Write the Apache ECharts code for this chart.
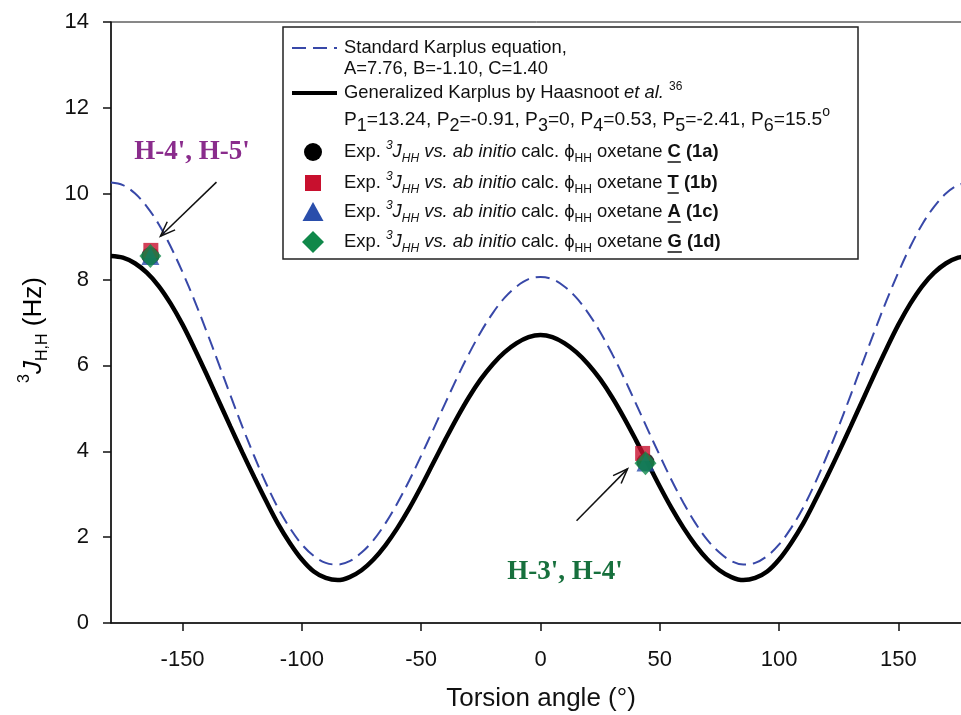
<!DOCTYPE html>
<html><head><meta charset="utf-8">
<script src="https://cdn.jsdelivr.net/npm/echarts@6/dist/echarts.min.js"></script>
<style>html,body{margin:0;padding:0;background:#fff}#c{width:961px;height:715px}</style>
</head><body><div id="c"></div>
<script>
// ---- data ----
const angles = [-180,-175,-170,-165,-160,-155,-150,-145,-140,-135,-130,-125,-120,-115,-110,-105,-100,-95,-90,-85,-80,-75,-70,-65,-60,-55,-50,-45,-40,-35,-30,-25,-20,-15,-10,-5,0,5,10,15,20,25,30,35,40,45,50,55,60,65,70,75,80,85,90,95,100,105,110,115,120,125,130,135,140,145,150,155,160,165,170,175,180];
const standardKarplus = [10.26,10.20,10.01,9.70,9.29,8.77,8.17,7.51,6.80,6.06,5.31,4.58,3.89,3.25,2.68,2.21,1.83,1.56,1.40,1.36,1.44,1.64,1.93,2.32,2.79,3.32,3.90,4.50,5.11,5.71,6.27,6.78,7.22,7.58,7.84,8.01,8.06,8.01,7.84,7.58,7.22,6.78,6.27,5.71,5.11,4.50,3.90,3.32,2.79,2.32,1.93,1.64,1.44,1.36,1.40,1.56,1.83,2.21,2.68,3.25,3.89,4.58,5.31,6.06,6.80,7.51,8.17,8.77,9.29,9.70,10.01,10.20,10.26];
const haasnootKarplus = [8.55,8.51,8.38,8.16,7.85,7.44,6.95,6.39,5.80,5.19,4.58,3.98,3.40,2.84,2.31,1.86,1.48,1.20,1.05,1.00,1.07,1.23,1.48,1.81,2.21,2.67,3.18,3.72,4.26,4.78,5.26,5.68,6.03,6.31,6.52,6.66,6.71,6.66,6.52,6.31,6.03,5.68,5.26,4.78,4.26,3.72,3.18,2.67,2.21,1.81,1.48,1.23,1.07,1.00,1.05,1.20,1.48,1.86,2.31,2.84,3.40,3.98,4.58,5.19,5.80,6.39,6.95,7.44,7.85,8.16,8.38,8.51,8.55];
const xTickValues = [-150,-100,-50,0,50,100,150];
const oxetaneC = [[-163.5,8.55],[44.0,3.75]];
const oxetaneT = [[-163.3,8.68],[42.8,3.95]];
const oxetaneA = [[-163.5,8.55],[44.0,3.74]];
const oxetaneG = [[-163.5,8.55],[44.0,3.72]];
const labelH45 = "H-4', H-5'";
const labelH34 = "H-3', H-4'";
const arrowH45 = {from:[-135.8,10.27], to:[-159.3,9.01]};
const arrowH34 = {from:[15.1,2.38], to:[36.5,3.59]};

const FONT = "'Liberation Sans', Arial, sans-serif";
const SERIF = "'Liberation Serif', 'Times New Roman', serif";
const BLUE = '#3848a8', RED = '#c8102e', TRI = '#2a4eab', GREEN = '#10884a';

const chart = echarts.init(document.getElementById('c'), null, {renderer:'canvas'});
const pair = (xs, ys) => xs.map((x,i)=>[x, ys[i]]);

chart.setOption({
  animation:false,
  backgroundColor:'#fff',
  grid:{left:111, top:22, right:-9, bottom:92, outerBoundsMode:'none', containLabel:false,
        show:true, borderColor:'#111', borderWidth:1, backgroundColor:'transparent'},
  xAxis:{type:'value', min:-180, max:180,
    axisLine:{onZero:false, lineStyle:{color:'#111', width:1.5}},
    axisTick:{show:true, length:8, lineStyle:{color:'#111', width:1.5}, customValues:xTickValues},
    axisLabel:{fontFamily:FONT, fontSize:22, color:'#111', margin:26, customValues:xTickValues},
    splitLine:{show:false}},
  yAxis:{type:'value', min:0, max:14, interval:2,
    axisLine:{show:true, onZero:false, lineStyle:{color:'#111', width:1.5}},
    axisTick:{show:true, length:8, lineStyle:{color:'#111', width:1.5}},
    axisLabel:{fontFamily:FONT, fontSize:22, color:'#111', margin:22},
    splitLine:{show:false}},
  series:[
    {type:'line', data:pair(angles, standardKarplus), smooth:0.35, showSymbol:false, clip:true,
     lineStyle:{color:BLUE, width:2, type:[14,7]}, z:2},
    {type:'line', data:pair(angles, haasnootKarplus), smooth:0.35, showSymbol:false, clip:true,
     lineStyle:{color:'#000', width:4.5}, z:3},
    {type:'scatter', data:oxetaneC, symbol:'circle', symbolSize:18, itemStyle:{color:'#000'}, z:4},
    {type:'scatter', data:oxetaneT, symbol:'rect', symbolSize:15, itemStyle:{color:RED}, z:5},
    {type:'scatter', data:oxetaneA, symbol:'triangle', symbolSize:18, itemStyle:{color:TRI}, z:6},
    {type:'scatter', data:oxetaneG, symbol:'diamond', symbolSize:[22,24], itemStyle:{color:GREEN}, z:7}
  ]
});

// ---- text measuring for underlines ----
const mctx = document.createElement('canvas').getContext('2d');
function mw(t, f){ mctx.font = f; return mctx.measureText(t).width; }

const LX = 344, FS = 18.4, SS = 12;
const fN = FS + 'px ' + FONT, fI = 'italic ' + FS + 'px ' + FONT, fB = 'bold ' + FS + 'px ' + FONT;
const fS = SS + 'px ' + FONT, fSI = 'italic ' + SS + 'px ' + FONT;

const richLegend = {
  n:{fontFamily:FONT, fontSize:FS, color:'#111'},
  p:{fontFamily:FONT, fontSize:19.2, color:'#111'},
  i:{fontFamily:FONT, fontSize:FS, fontStyle:'italic', color:'#111'},
  b:{fontFamily:FONT, fontSize:FS, fontWeight:'bold', color:'#111'},
  sup:{fontFamily:FONT, fontSize:SS, color:'#111', verticalAlign:'top'},
  supi:{fontFamily:FONT, fontSize:SS, fontStyle:'italic', color:'#111', verticalAlign:'top'},
  sub:{fontFamily:FONT, fontSize:SS, color:'#111', verticalAlign:'bottom'},
  subi:{fontFamily:FONT, fontSize:SS, fontStyle:'italic', color:'#111', verticalAlign:'bottom'},
  psub:{fontFamily:FONT, fontSize:18, color:'#111', verticalAlign:'bottom'},
  psup:{fontFamily:FONT, fontSize:14, color:'#111', verticalAlign:'top'}
};

function legendText(y, text, lh){
  return {type:'text', x:LX, y:y, z:20, style:{text:text, rich:richLegend, font:fN, fill:'#111', textVerticalAlign:'middle', lineHeight:lh || 25}};
}
function expRow(y, letter, tag){
  const t = '{n|Exp. }{supi|3}{i|J}{subi|HH}{n| }{i|vs. ab initio}{n| calc. ϕ}{sub|HH}{n| oxetane }{b|' + letter + '}{n| }{b|(' + tag + ')}';
  const pre = mw('Exp. ', fN) + mw('3', fSI) + mw('J', fI) + mw('HH', fSI) + mw(' ', fN) + mw('vs. ab initio', fI) + mw(' calc. ϕ', fN) + mw('HH', fS) + mw(' oxetane ', fN);
  const lw = mw(letter, fB);
  return [legendText(y, t),
    {type:'line', z:20, shape:{x1:LX+pre, y1:y+10, x2:LX+pre+lw, y2:y+10}, style:{stroke:'#111', lineWidth:1.5}}];
}

function arrow(a){
  const s = chart.convertToPixel({xAxisIndex:0, yAxisIndex:0}, a.from);
  const e = chart.convertToPixel({xAxisIndex:0, yAxisIndex:0}, a.to);
  const dx = s[0]-e[0], dy = s[1]-e[1], L = Math.hypot(dx,dy), ux = dx/L, uy = dy/L;
  const h = 16, ang = 0.36;
  const rot = (t)=>[e[0] + h*(ux*Math.cos(t) - uy*Math.sin(t)), e[1] + h*(ux*Math.sin(t) + uy*Math.cos(t))];
  return [
    {type:'line', z:15, shape:{x1:s[0], y1:s[1], x2:e[0], y2:e[1]}, style:{stroke:'#111', lineWidth:1.5}},
    {type:'polyline', z:15, shape:{points:[rot(ang), e, rot(-ang)]}, style:{stroke:'#111', lineWidth:1.5, fill:null}}
  ];
}

const g = [];
// legend box
g.push({type:'rect', z:18, shape:{x:283, y:27, width:575, height:232}, style:{fill:'#fff', stroke:'#222', lineWidth:1.5}});
g.push({type:'line', z:20, shape:{x1:292, y1:48, x2:337, y2:48}, style:{stroke:BLUE, lineWidth:2, lineDash:[14,7]}});
g.push({type:'line', z:20, shape:{x1:292, y1:93, x2:337, y2:93}, style:{stroke:'#000', lineWidth:4}});
g.push({type:'circle', z:20, shape:{cx:313, cy:152, r:9}, style:{fill:'#000'}});
g.push({type:'rect', z:20, shape:{x:305, y:175, width:16, height:16}, style:{fill:RED}});
g.push({type:'polygon', z:20, shape:{points:[[313,202],[323.5,221],[302.5,221]]}, style:{fill:TRI}});
g.push({type:'polygon', z:20, shape:{points:[[313,231],[324,242],[313,253],[302,242]]}, style:{fill:GREEN}});
g.push(legendText(48, '{n|Standard Karplus equation,}'));
g.push(legendText(69, '{n|A=7.76, B=-1.10, C=1.40}'));
g.push(legendText(93, '{n|Generalized Karplus by Haasnoot }{i|et al.}{n| }{sup|36}'));
g.push(legendText(120, '{p|P}{psub|1}{p|=13.24, P}{psub|2}{p|=-0.91, P}{psub|3}{p|=0, P}{psub|4}{p|=0.53, P}{psub|5}{p|=-2.41, P}{psub|6}{p|=15.5}{psup|o}', 30));
g.push(...expRow(152, 'C', '1a'));
g.push(...expRow(183, 'T', '1b'));
g.push(...expRow(212, 'A', '1c'));
g.push(...expRow(242, 'G', '1d'));

// annotations
g.push({type:'text', x:192, y:152, z:16, style:{text:labelH45, font:'bold 27px ' + SERIF, fill:'#8a2c8c', textAlign:'center', textVerticalAlign:'middle'}});
g.push({type:'text', x:565, y:572, z:16, style:{text:labelH34, font:'bold 27px ' + SERIF, fill:'#17703d', textAlign:'center', textVerticalAlign:'middle'}});
g.push(...arrow(arrowH45));
g.push(...arrow(arrowH34));

// axis titles
g.push({type:'text', x:541, y:699, z:16, style:{text:'Torsion angle (°)', font:'26px ' + FONT, fill:'#111', textAlign:'center', textVerticalAlign:'middle'}});
g.push({type:'text', x:34, y:330, rotation:Math.PI/2, z:16, style:{
  text:'{sup|3}{i|J}{sub|H,H}{n| (Hz)}', textAlign:'center', textVerticalAlign:'middle',
  rich:{
    n:{fontFamily:FONT, fontSize:26, color:'#111'},
    i:{fontFamily:FONT, fontSize:26, fontStyle:'italic', color:'#111'},
    sup:{fontFamily:FONT, fontSize:16, color:'#111', verticalAlign:'top'},
    sub:{fontFamily:FONT, fontSize:16, color:'#111', verticalAlign:'bottom'}
  }, lineHeight:34}});

chart.setOption({graphic:g});
</script></body></html>
